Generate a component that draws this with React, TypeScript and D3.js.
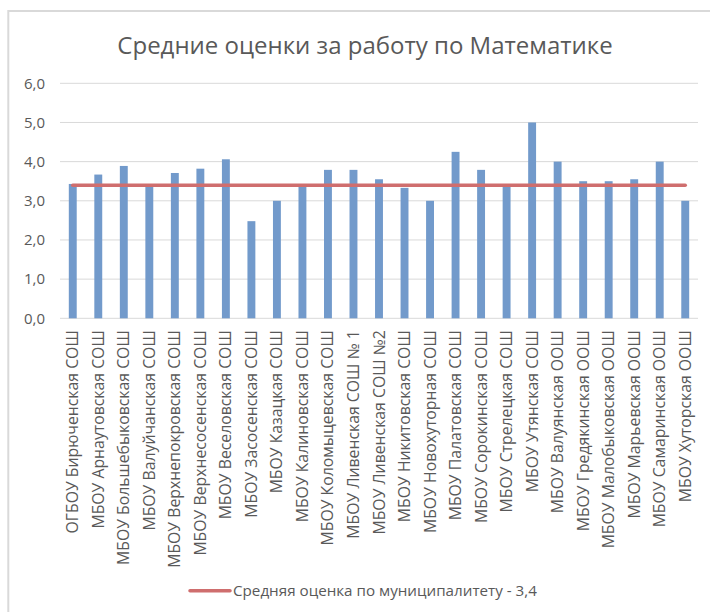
import React from 'react';
import * as d3 from 'd3';

// школы (категории оси X)
const schools = [
  'ОГБОУ Бирюченская СОШ',
  'МБОУ Арнаутовская СОШ',
  'МБОУ Большебыковская СОШ',
  'МБОУ Валуйчанская СОШ',
  'МБОУ Верхнепокровская СОШ',
  'МБОУ Верхнесосенская СОШ',
  'МБОУ Веселовская СОШ',
  'МБОУ Засосенская СОШ',
  'МБОУ Казацкая СОШ',
  'МБОУ Калиновская СОШ',
  'МБОУ Коломыцевская СОШ',
  'МБОУ Ливенская СОШ № 1',
  'МБОУ Ливенская СОШ №2',
  'МБОУ Никитовская СОШ',
  'МБОУ Новохуторная СОШ',
  'МБОУ Палатовская СОШ',
  'МБОУ Сорокинская СОШ',
  'МБОУ Стрелецкая СОШ',
  'МБОУ Утянская СОШ',
  'МБОУ Валуянская ООШ',
  'МБОУ Гредякинская ООШ',
  'МБОУ Малобыковская ООШ',
  'МБОУ Марьевская ООШ',
  'МБОУ Самаринская ООШ',
  'МБОУ Хуторская ООШ',
];

// средние оценки по школам
const scores = [
  3.43, 3.67, 3.89, 3.4, 3.71, 3.82, 4.06, 2.48, 3.0, 3.38, 3.79, 3.79, 3.55,
  3.33, 3.0, 4.25, 3.79, 3.38, 5.0, 4.0, 3.5, 3.5, 3.55, 4.0, 3.0,
];

const avgScore = 3.4;
const avgLabel = 'Средняя оценка по муниципалитету - 3,4';
const yTicks = [0, 1, 2, 3, 4, 5, 6];
const title = 'Средние оценки за работу по Математике';

const W = 710;
const H = 612;
const margin = { left: 60, right: 12, top: 83.3, bottom: 293.7 };

const font = '"Open Sans", sans-serif';
const textColor = '#595959';
const gridColor = '#d9d9d9';
const barColor = '#729acb';
const lineColor = '#cf6e6e';

const App: React.FC = () => {
  const x = d3
    .scaleBand<string>()
    .domain(schools)
    .range([margin.left, W - margin.right])
    .paddingInner(0.69)
    .paddingOuter(0.345);

  const y = d3
    .scaleLinear()
    .domain([0, 6])
    .range([H - margin.bottom, margin.top]);

  const fmt = (v: number) => v.toFixed(1).replace('.', ',');
  const center = (s: string) => (x(s) ?? 0) + x.bandwidth() / 2;

  const avgLine = d3.line<string>()
    .x(d => center(d))
    .y(() => y(avgScore));

  return (
    <svg
      width={W}
      height={H}
      style={{ position: 'absolute', left: 0, top: 0, background: '#fff' }}
    >
      <rect x={8.3} y={11} width={800} height={700} fill="#fff" stroke={gridColor} strokeWidth={2} />

      <text
        x={365}
        y={54}
        textAnchor="middle"
        fontFamily={font}
        fontSize={24}
        fill={textColor}
      >
        {title}
      </text>

      {/* сетка и подписи оси Y */}
      {yTicks.map(t => (
        <g key={t}>
          <line
            x1={margin.left}
            x2={W - margin.right}
            y1={y(t)}
            y2={y(t)}
            stroke={gridColor}
            strokeWidth={1}
          />
          <text
            x={45}
            y={y(t)}
            dy="0.35em"
            textAnchor="end"
            fontFamily={font}
            fontSize={15}
            fill={textColor}
          >
            {fmt(t)}
          </text>
        </g>
      ))}

      {/* столбцы */}
      {schools.map((s, i) => (
        <rect
          key={s}
          x={x(s)}
          y={y(scores[i])}
          width={x.bandwidth()}
          height={y(0) - y(scores[i])}
          fill={barColor}
        />
      ))}

      {/* линия средней оценки */}
      <path
        d={avgLine([schools[0], schools[schools.length - 1]]) ?? ''}
        fill="none"
        stroke={lineColor}
        strokeWidth={3.5}
        strokeLinecap="round"
      />

      {/* подписи оси X */}
      {schools.map(s => (
        <text
          key={s}
          transform={`translate(${center(s)},${y(0) + 12}) rotate(-90)`}
          dy="0.35em"
          textAnchor="end"
          fontFamily={font}
          fontSize={15.8}
          fill={textColor}
        >
          {s}
        </text>
      ))}

      {/* легенда */}
      <line
        x1={190}
        x2={230}
        y1={590.7}
        y2={590.7}
        stroke={lineColor}
        strokeWidth={3.5}
        strokeLinecap="round"
      />
      <text
        x={233}
        y={590.7}
        dy="0.35em"
        fontFamily={font}
        fontSize={15.2}
        fill={textColor}
      >
        {avgLabel}
      </text>
    </svg>
  );
};

export default App;
